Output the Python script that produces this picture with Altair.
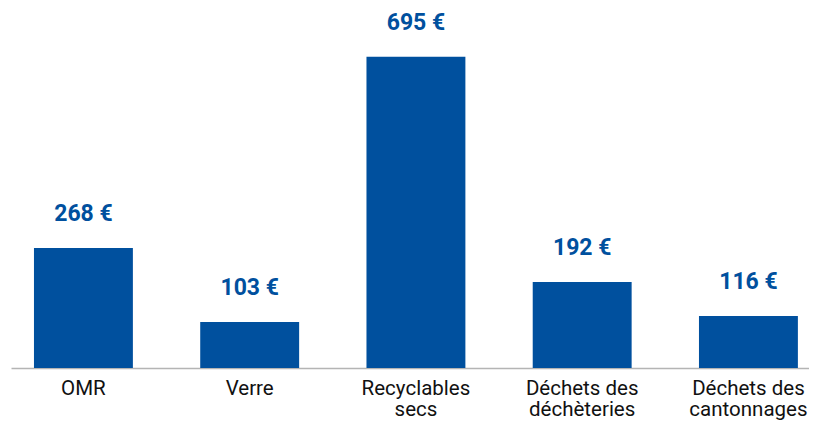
import altair as alt
import pandas as pd

categories = ["OMR", "Verre", "Recyclables\nsecs", "Déchets des\ndéchèteries", "Déchets des\ncantonnages"]
values = [268, 103, 695, 192, 116]
labels = ["268 €", "103 €", "695 €", "192 €", "116 €"]

df = pd.DataFrame({"cat": categories, "val": values, "lab": labels})

blue = "#00509e"

x = alt.X("cat:N", sort=categories, title=None,
          scale=alt.Scale(paddingInner=0.405, paddingOuter=0.1025, align=0.674),
          axis=alt.Axis(labelAngle=0, ticks=False, domain=True, domainColor="#b4b4b4",
                        domainWidth=1.5, labelFont="Roboto", labelFontSize=20.5,
                        labelColor="#111111", labelPadding=10, labelLineHeight=21,
                        labelExpr="split(datum.label, '\\n')", labelLimit=300))
y = alt.Y("val:Q", scale=alt.Scale(domain=[0, 804], nice=False), axis=None)

bars = alt.Chart(df).mark_bar(color=blue).encode(x=x, y=y)
text = alt.Chart(df).mark_text(font="Roboto", fontWeight="bold", fontSize=23, color=blue,
                               baseline="alphabetic", dy=-27).encode(x=x, y=y, text="lab:N")

chart = (bars + text).properties(
    width=798, height=360,
    autosize=alt.AutoSizeParams(type="none"),
    padding={"left": 3, "top": 0, "right": 0, "bottom": 52},
).configure_view(stroke=None)

chart.save("out.html", embed_options={"renderer": "svg", "actions": False})
